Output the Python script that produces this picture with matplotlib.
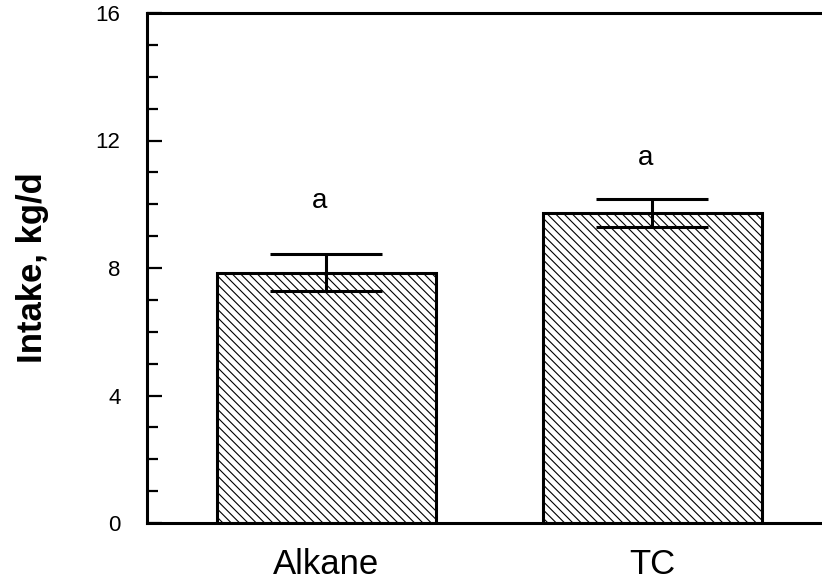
import matplotlib
matplotlib.use("Agg")
import matplotlib.pyplot as plt
from matplotlib.ticker import MultipleLocator

plt.rcParams['font.family'] = ['Liberation Sans', 'DejaVu Sans']
plt.rcParams['hatch.linewidth'] = 0.8
plt.rcParams['hatch.color'] = '#444444'

# data
groups = ['Alkane', 'TC']
intake = [7.85, 9.72]
intake_se = [0.58, 0.44]
letters = ['a', 'a']
letter_y = [9.87, 11.22]

fig = plt.figure(figsize=(8.22, 5.84), dpi=100)
ax = fig.add_axes([147 / 822, 61 / 584, 1 - 147 / 822, 510 / 584])

xs = range(len(groups))
ax.bar(xs, intake, width=0.672, color='white', edgecolor='black',
       linewidth=2.2, hatch='\\\\\\\\', zorder=2)
ax.errorbar(xs, intake, yerr=intake_se, fmt='none', ecolor='black',
            elinewidth=2.2, capsize=40, capthick=2.2, zorder=3)
for x, t, y in zip(xs, letters, letter_y):
    ax.text(x - 0.02, y, t, ha='center', va='baseline', fontsize=20)

ax.set_xlim(-0.5506, 1.52)
ax.set_ylim(0, 16)
ax.set_xticks(list(xs))
ax.set_xticklabels(groups, fontsize=25)
ax.tick_params(axis='x', length=0, pad=18)

ax.yaxis.set_major_locator(MultipleLocator(4))
ax.yaxis.set_minor_locator(MultipleLocator(1))
ax.tick_params(axis='y', which='major', direction='in', length=11, width=1.6,
               labelsize=16, pad=19)
ax.tick_params(axis='y', which='minor', direction='in', length=8, width=1.6)
ax.set_ylabel('Intake, kg/d', fontsize=25, fontweight='bold', labelpad=34)

for s in ['left', 'top', 'bottom']:
    ax.spines[s].set_linewidth(2.2)
ax.spines['right'].set_visible(False)

fig.savefig('out.png', dpi=100)
